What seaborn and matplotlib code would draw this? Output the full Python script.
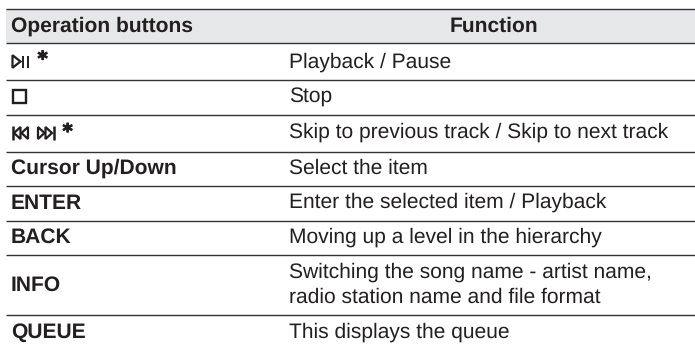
import matplotlib
matplotlib.use("Agg")
import matplotlib.pyplot as plt
from matplotlib.patches import Polygon, Rectangle
import matplotlib.patheffects as pe
import seaborn as sns

sns.set_theme(style="white")
plt.rcParams['font.family'] = ['Liberation Sans', 'DejaVu Sans']
plt.rcParams['text.hinting'] = 'no_hinting'
plt.rcParams['text.hinting_factor'] = 1

W, H = 695, 347
headers = ["Operation buttons", "Function"]
col1 = ["Cursor Up/Down", "ENTER", "BACK", "INFO", "QUEUE"]
col1_base = [174, 209, 243, 291, 337.5]
col2 = ["Playback / Pause", "Stop", "Skip to previous track / Skip to next track",
        "Select the item", "Enter the selected item / Playback",
        "Moving up a level in the hierarchy",
        "Switching the song name - artist name,",
        "radio station name and file format",
        "This displays the queue"]
col2_base = [68, 103, 138, 174, 208, 243, 278, 303, 338]
rules = [8.7, 42.5, 79.7, 114.5, 151.7, 186, 220.5, 255, 315.3]
INK = "#231f20"
REG, BOLD = 15.0, 15.3

fig = plt.figure(figsize=(W/100, H/100), dpi=100, facecolor="white")
ax = fig.add_axes([0, 0, 1, 1])
ax.set_xlim(0, W); ax.set_ylim(H, 0); ax.axis("off")

ax.add_patch(Rectangle((6, 9), W-6, 33.5, fc="#e6e7e8", ec="none"))
for y in rules:
    ax.plot([6, W], [y, y], color="#333335", lw=1.0, solid_capstyle="butt")

ax.text(11, 31.7, headers[0], fontsize=BOLD, fontweight="bold", color=INK, va="baseline")
ax.text(493.5, 31.7, headers[1], fontsize=BOLD, fontweight="bold", color=INK, ha="center", va="baseline")
for t, y in zip(col1, col1_base):
    ax.text(11, y, t, fontsize=BOLD, fontweight="bold", color=INK, va="baseline")
for t, y in zip(col2, col2_base):
    ax.text(289, y, t, fontsize=REG, color=INK, va="baseline")

# button glyphs
def tri(x0, x1, y, s, lw=1.6):
    ax.add_patch(Polygon([(x0, y-s), (x1, y), (x0, y+s)], closed=True, fc="white", ec=INK, lw=lw))
def bar(x, y0, y1, lw=1.4):
    ax.plot([x, x], [y0, y1], color=INK, lw=lw, solid_capstyle="butt")
def star(x, base):
    ax.text(x, base, "*", fontsize=14, fontweight="bold", family="DejaVu Sans",
            color=INK, ha="center", va="baseline",
            path_effects=[pe.withStroke(linewidth=0.8, foreground=INK)])

tri(12.5, 20.5, 61.5, 6.3)
bar(23.3, 55.5, 67.5); bar(28, 55.5, 67.5)
star(42.5, 65)
ax.add_patch(Rectangle((12.7, 89.7), 12.8, 12.8, fc="white", ec=INK, lw=1.7))
bar(12.5, 126, 140, 1.8)
tri(20.5, 14, 133, 6); tri(28, 21.5, 133, 6)
tri(38, 44.5, 133, 6); tri(45.5, 52, 133, 6)
bar(53.5, 126, 140, 1.8)
star(67.5, 137.5)

fig.savefig("out.png", dpi=100)
